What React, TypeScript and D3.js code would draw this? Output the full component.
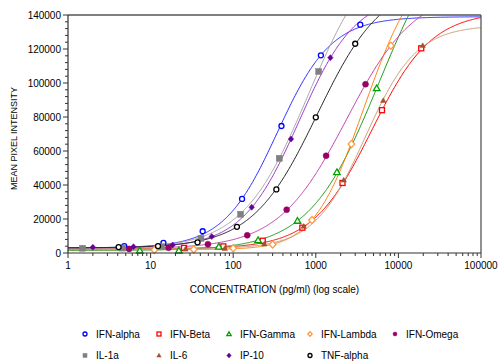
import React from "react";
import * as d3 from "d3";

// ---------- data ----------
const seriesNames = ["IFN-alpha", "IFN-Beta", "IFN-Gamma", "IFN-Lambda", "IFN-Omega", "IL-1a", "IL-6", "IP-10", "TNF-alpha"];

// concentrations (pg/ml) and mean pixel intensity for each analyte
const ifnAlphaConc = [4.8, 14.3, 42.7, 128, 384, 1152, 3456];
const ifnAlphaMpi = [4100, 5900, 12800, 31800, 74700, 116300, 134300];
const ifnBetaConc = [25.4, 76, 228, 687, 2105, 6330, 18900];
const ifnBetaMpi = [3000, 3900, 7200, 14900, 41200, 84000, 120400];
const ifnGammaConc = [7.4, 22, 67, 200, 600, 1800, 5460];
const ifnGammaMpi = [1400, 1400, 3700, 7500, 18900, 47500, 96900];
const ifnLambdaConc = [11.1, 33.3, 100, 300, 900, 2700, 8100];
const ifnLambdaMpi = [1800, 2100, 2800, 5000, 19400, 64100, 121900];
const ifnOmegaConc = [5.5, 16.5, 49.4, 148, 444, 1333, 4000];
const ifnOmegaMpi = [2400, 3100, 5200, 10400, 25500, 57200, 99300];
const il1aConc = [1.5, 4.6, 13.6, 40.7, 123, 361, 1084];
const il1aMpi = [2800, 2900, 3700, 8600, 22800, 55700, 106800];
const il6Conc = [26.4, 79, 238, 713, 2177, 6560, 19700];
const il6Mpi = [2300, 2700, 5300, 15700, 42900, 89700, 122000];
const ip10Conc = [2.0, 6.2, 18.5, 55, 167.5, 501, 1500];
const ip10Mpi = [3400, 3700, 4700, 9700, 26900, 67000, 114900];
const tnfAlphaConc = [4.1, 12.3, 37, 111, 333, 1000, 3000];
const tnfAlphaMpi = [3500, 4100, 6300, 15400, 37400, 79800, 123100];

// fitted logistic curve parameters: [bottom, top, EC50, hill, asymmetry]
const ifnAlphaFit = [3000, 139000, 343, 1.33, 1];
const ifnBetaFit = [2500, 142000, 4770, 1.2, 1];
const ifnGammaFit = [1500, 200000, 5890, 1.025, 1];
const ifnLambdaFit = [2000, 180000, 2694, 1.19, 1.5];
const ifnOmegaFit = [2500, 155000, 2364, 1.045, 1];
const il1aFit = [2500, 185000, 822, 1.08, 1];
const il6Fit = [2500, 134000, 3976, 1.4, 1];
const ip10Fit = [3000, 152000, 627, 1.26, 1];
const tnfAlphaFit = [3000, 160000, 1040, 1.1, 1];

const xTickValues = [1, 10, 100, 1000, 10000, 100000];
const yTickValues = [0, 20000, 40000, 60000, 80000, 100000, 120000, 140000];

// ---------- styles ----------
type Shape = "circle" | "square" | "triangle" | "diamond";
const styles: { shape: Shape; filled: boolean; marker: string; line: string; size: number }[] = [
  { shape: "circle", filled: false, marker: "#0000ff", line: "#2a2aff", size: 5 },
  { shape: "square", filled: false, marker: "#ff0000", line: "#ff0000", size: 5 },
  { shape: "triangle", filled: false, marker: "#00a000", line: "#1a9a1a", size: 6 },
  { shape: "diamond", filled: false, marker: "#ff9a40", line: "#ff8010", size: 6 },
  { shape: "circle", filled: true, marker: "#990066", line: "#c040a8", size: 6 },
  { shape: "square", filled: true, marker: "#808080", line: "#a8a8a8", size: 6 },
  { shape: "triangle", filled: true, marker: "#a0522d", line: "#c8a078", size: 5 },
  { shape: "diamond", filled: true, marker: "#660099", line: "#9933cc", size: 5 },
  { shape: "circle", filled: false, marker: "#000000", line: "#202020", size: 5 },
];

const concs = [ifnAlphaConc, ifnBetaConc, ifnGammaConc, ifnLambdaConc, ifnOmegaConc, il1aConc, il6Conc, ip10Conc, tnfAlphaConc];
const mpis = [ifnAlphaMpi, ifnBetaMpi, ifnGammaMpi, ifnLambdaMpi, ifnOmegaMpi, il1aMpi, il6Mpi, ip10Mpi, tnfAlphaMpi];
const fits = [ifnAlphaFit, ifnBetaFit, ifnGammaFit, ifnLambdaFit, ifnOmegaFit, il1aFit, il6Fit, ip10Fit, tnfAlphaFit];

// ---------- layout ----------
const W = 500;
const H = 364;
const left = 68;
const right = 481;
const top = 15;
const bottom = 253;

const x = d3.scaleLog().domain([1, 100000]).range([left, right]);
const y = d3.scaleLinear().domain([0, 140000]).range([bottom, top]);

const logistic = (p: number[], c: number) => {
  const [b, t, ec, h, s] = p;
  return b + (t - b) / Math.pow(1 + Math.pow(ec / c, h), s);
};

const sampleX = d3.range(0, 5.0001, 0.01).map((e) => Math.pow(10, e));

function Marker({ shape, filled, color, cx, cy, size }: { shape: Shape; filled: boolean; color: string; cx: number; cy: number; size: number }) {
  const fill = filled ? color : "#ffffff";
  const sw = filled ? 0.5 : 1.3;
  const r = size / 2;
  if (shape === "circle") return <circle cx={cx} cy={cy} r={r} fill={fill} stroke={color} strokeWidth={sw} />;
  if (shape === "square") return <rect x={cx - r} y={cy - r} width={size} height={size} fill={fill} stroke={color} strokeWidth={sw} />;
  if (shape === "triangle")
    return <polygon points={`${cx},${cy - r * 1.1} ${cx + r * 1.1},${cy + r * 0.8} ${cx - r * 1.1},${cy + r * 0.8}`} fill={fill} stroke={color} strokeWidth={sw} />;
  return <polygon points={`${cx},${cy - r * 1.2} ${cx + r * 1.1},${cy} ${cx},${cy + r * 1.2} ${cx - r * 1.1},${cy}`} fill={fill} stroke={color} strokeWidth={sw} />;
}

export default function App() {
  const line = d3
    .line<number>()
    .x((c) => x(c))
    .y((c) => y(0));

  const minorX: number[] = [];
  for (let d = 1; d < 100000; d *= 10) for (let k = 2; k <= 9; k++) minorX.push(d * k);
  const minorY = d3.range(0, 140001, 4000).filter((v) => v % 20000 !== 0);

  const font = "'Liberation Sans', Arial, sans-serif";
  const legendCols = [85, 159, 229, 310, 395];
  const legendRows = [334, 355.5];

  return (
    <svg width={W} height={H} style={{ position: "absolute", left: 0, top: 0, background: "#fff" }} fontFamily={font}>
      <defs>
        <clipPath id="plotClip">
          <rect x={left} y={top} width={right - left} height={bottom - top} />
        </clipPath>
      </defs>
      <rect x={0} y={0} width={W} height={H} fill="#ffffff" />

      {/* curves */}
      <g clipPath="url(#plotClip)">
        {fits.map((p, i) => {
          const gen = d3
            .line<number>()
            .x((c) => x(c))
            .y((c) => y(logistic(p, c)));
          return <path key={i} d={gen(sampleX) || ""} fill="none" stroke={styles[i].line} strokeWidth={1} />;
        })}
      </g>

      {/* points */}
      <g>
        {concs.map((cs, i) =>
          cs.map((c, j) => (
            <Marker key={`${i}-${j}`} shape={styles[i].shape} filled={styles[i].filled} color={styles[i].marker} cx={x(c)} cy={y(mpis[i][j])} size={styles[i].size} />
          ))
        )}
      </g>

      {/* frame */}
      <line x1={left} x2={right} y1={top} y2={top} stroke="#555" strokeWidth={1.3} />
      <line x1={right} x2={right} y1={top} y2={bottom} stroke="#555" strokeWidth={1.3} />
      <line x1={left} x2={left} y1={top} y2={bottom} stroke="#333" strokeWidth={1.2} />
      <line x1={left} x2={right} y1={bottom} y2={bottom} stroke="#333" strokeWidth={1.2} />

      {/* y ticks */}
      {yTickValues.map((v) => (
        <g key={v}>
          <line x1={left - 5} x2={left} y1={y(v)} y2={y(v)} stroke="#333" />
          <text x={left - 7} y={y(v)} dy="0.35em" textAnchor="end" fontSize={10} fill="#000">
            {v}
          </text>
        </g>
      ))}
      {minorY.map((v) => (
        <line key={v} x1={left - 3} x2={left} y1={y(v)} y2={y(v)} stroke="#333" />
      ))}

      {/* x ticks */}
      {xTickValues.map((v) => (
        <g key={v}>
          <line x1={x(v)} x2={x(v)} y1={bottom} y2={bottom + 5} stroke="#333" />
          <text x={x(v)} y={bottom + 16} textAnchor="middle" fontSize={10} fill="#000">
            {v}
          </text>
        </g>
      ))}
      {minorX.map((v) => (
        <line key={v} x1={x(v)} x2={x(v)} y1={bottom} y2={bottom + 3} stroke="#333" />
      ))}

      {/* axis titles */}
      <text x={(left + right) / 2 + 0} y={292.5} textAnchor="middle" fontSize={10} fill="#000">
        CONCENTRATION (pg/ml) (log scale)
      </text>
      <text transform={`translate(17, ${138.5}) rotate(-90)`} textAnchor="middle" fontSize={9} fill="#000">
        MEAN PIXEL INTENSITY
      </text>

      {/* legend */}
      {seriesNames.map((name, i) => {
        const row = i < 5 ? 0 : 1;
        const col = i < 5 ? i : i - 5;
        const mx = legendCols[col];
        const my = legendRows[row];
        return (
          <g key={name}>
            <Marker shape={styles[i].shape} filled={styles[i].filled} color={styles[i].marker} cx={mx} cy={my} size={4} />
            <text x={mx + 11} y={my} dy="0.35em" fontSize={10} fill="#000">
              {name}
            </text>
          </g>
        );
      })}
    </svg>
  );
}
